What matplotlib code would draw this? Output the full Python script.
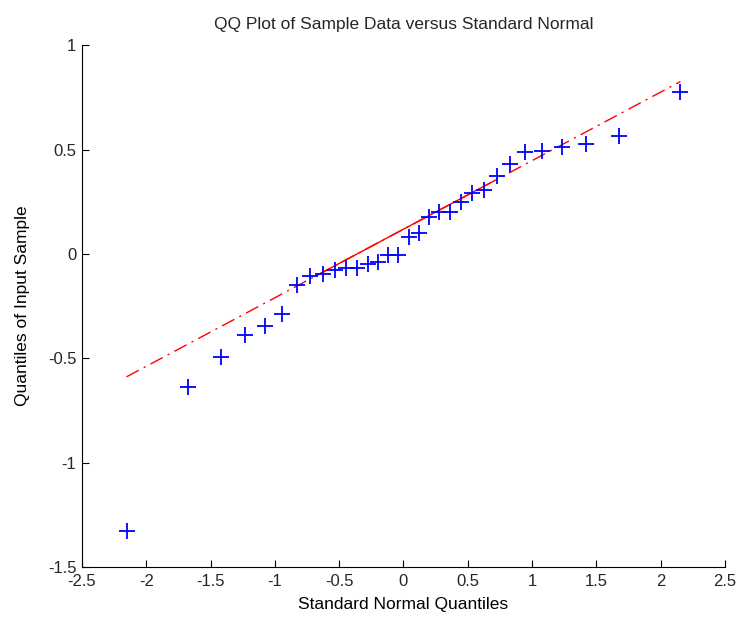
import numpy as np
import matplotlib
matplotlib.use("Agg")
import matplotlib.pyplot as plt

# theoretical standard normal quantiles, p = (i - 0.5) / 32
x_half = [-2.1539, -1.6759, -1.4178, -1.2298, -1.0774, -0.9467, -0.8305, -0.7249,
          -0.6260, -0.5334, -0.4453, -0.3601, -0.2776, -0.1970, -0.1177, -0.0392]
norm_q = x_half + [-v for v in reversed(x_half)]

# sorted sample values
sample = [-1.329, -0.637, -0.494, -0.388, -0.344, -0.287, -0.151, -0.108,
          -0.098, -0.076, -0.067, -0.067, -0.049, -0.038, -0.006, -0.006,
          0.083, 0.098, 0.176, 0.199, 0.199, 0.251, 0.292, 0.308,
          0.372, 0.429, 0.487, 0.492, 0.514, 0.528, 0.564, 0.778]

x_ticks = [-2.5, -2, -1.5, -1, -0.5, 0, 0.5, 1, 1.5, 2, 2.5]
y_ticks = [-1.5, -1, -0.5, 0, 0.5, 1]


def main():
    plt.rcParams["font.family"] = "Liberation Sans"
    plt.rcParams["text.color"] = "#262626"
    x = np.array(norm_q)
    y = np.array(sample)

    # reference line through the quartiles, like MATLAB qqplot
    q1, q3 = np.percentile(y, [25, 75], method="hazen")
    zq = 0.6745
    slope = (q3 - q1) / (2 * zq)
    icpt = q1 + slope * zq
    xl = np.array([x.min(), x.max()])
    xm = np.array([-zq, zq])

    fig = plt.figure(figsize=(7.39, 6.19), dpi=100)
    ax = fig.add_axes([0.111, 0.084, 0.870, 0.843])
    ax.plot(xl, icpt + slope * xl, color="red", lw=1.0,
            linestyle=(0, (10, 4, 1.5, 4)))
    ax.plot(xm, icpt + slope * xm, color="red", lw=1.0)
    ax.plot(x, y, "+", color="blue", markersize=12, mew=1.3)

    ax.set_xlim(-2.5, 2.5)
    ax.set_ylim(-1.5, 1)
    ax.set_xticks(x_ticks)
    ax.set_xticklabels([f"{t:g}" for t in x_ticks])
    ax.set_yticks(y_ticks)
    ax.set_yticklabels([f"{t:g}" for t in y_ticks])
    ax.tick_params(direction="in", length=5, labelsize=12, width=0.8,
                   labelcolor="#262626")
    ax.tick_params(axis="x", pad=5)
    ax.tick_params(axis="y", pad=4)
    ax.spines["top"].set_visible(False)
    ax.spines["right"].set_visible(False)
    for s in ("left", "bottom"):
        ax.spines[s].set_linewidth(0.8)

    ax.set_title("QQ Plot of Sample Data versus Standard Normal", fontsize=12.5, pad=12)
    ax.set_xlabel("Standard Normal Quantiles", fontsize=12.5, labelpad=6)
    ax.set_ylabel("Quantiles of Input Sample", fontsize=12.5, labelpad=13)

    fig.savefig("out.png", dpi=100)


if __name__ == "__main__":
    main()
